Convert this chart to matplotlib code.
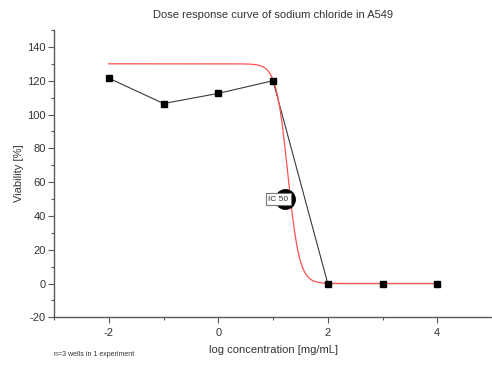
import numpy as np
import matplotlib.pyplot as plt
from matplotlib.ticker import MultipleLocator

plt.rcParams["font.family"] = ["Liberation Sans", "DejaVu Sans"]

# measured viability per log concentration
log_conc = [-2, -1, 0, 1, 2, 3, 4]
viability = [121.5, 106.5, 112.5, 120.0, 0.0, 0.0, 0.0]

# four-parameter logistic fit
fit_top = 130.0
fit_bottom = 0.0
fit_logx0 = 1.27
fit_hill = 4.1

ic50_x = 1.21
ic50_y = 50.0

text_col = "#333333"
axis_col = "#5a5a5a"

fig = plt.figure(figsize=(4.92, 3.66), dpi=100)
ax = fig.add_axes([0.1098, 0.133, 0.8902, 0.785])

xs = np.linspace(-2, 4, 400)
fit = fit_bottom + (fit_top - fit_bottom) / (1 + 10 ** ((xs - fit_logx0) * fit_hill))

ax.plot(log_conc, viability, color="#3a3a3a", linewidth=0.8, zorder=2)
ax.plot(xs, fit, color="#ff5050", linewidth=0.9, zorder=3)
ax.plot(log_conc, viability, linestyle="none", marker="s", markersize=5,
        color="black", zorder=4)

ax.plot([ic50_x], [ic50_y], marker="o", markersize=14, color="black", zorder=5)
ax.annotate("IC 50", (ic50_x, ic50_y), xytext=(-6, 0), textcoords="offset pixels",
            ha="center", va="center", fontsize=6, color=text_col, zorder=6,
            bbox=dict(boxstyle="square,pad=0.3", facecolor="white",
                      edgecolor="#777777", linewidth=0.8))

ax.set_xlim(-3, 5)
ax.set_ylim(-20, 150)
ax.xaxis.set_minor_locator(MultipleLocator(1))
ax.yaxis.set_minor_locator(MultipleLocator(10))
ax.set_xticks([-2, 0, 2, 4])
ax.set_yticks(range(-20, 141, 20))
ax.set_yticklabels(["-20", "0", "20", "40", "60", "80", "100", "120", "140"])
ax.set_xticklabels(["-2", "0", "2", "4"])

for side in ["top", "right"]:
    ax.spines[side].set_visible(False)
for side in ["left", "bottom"]:
    ax.spines[side].set_color(axis_col)
    ax.spines[side].set_linewidth(1.0)

ax.tick_params(which="major", direction="out", length=4, width=0.8,
               color=axis_col, labelsize=8, labelcolor=text_col, pad=2)
ax.tick_params(axis="x", which="major", pad=3.5)
ax.tick_params(which="minor", direction="out", length=2, width=0.8, color=axis_col)

ax.set_title("Dose response curve of sodium chloride in A549", fontsize=8,
             color=text_col, pad=9)
ax.set_xlabel("log concentration [mg/mL]", fontsize=8, color=text_col, labelpad=5)
ax.set_ylabel("Viability [%]", fontsize=8, color=text_col, labelpad=2)

fig.text(54 / 492, 1 - 355 / 366, "n=3 wells in 1 experiment", fontsize=5,
         color=text_col, ha="left", va="center")

fig.savefig("out.png", dpi=100)
